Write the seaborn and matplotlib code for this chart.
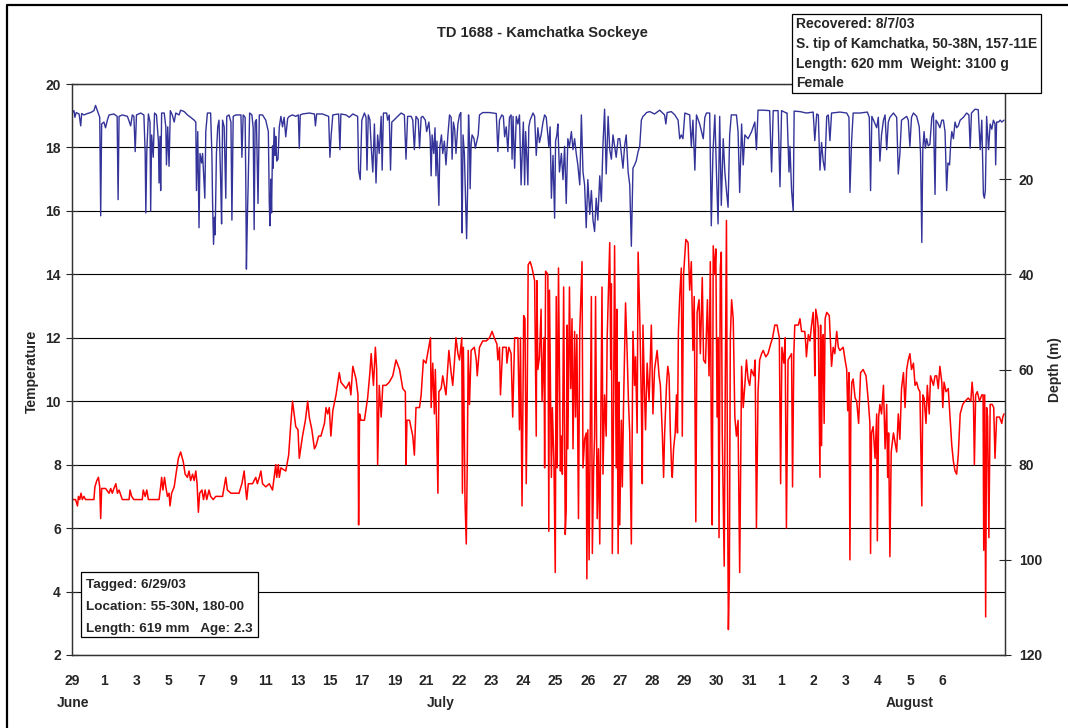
import numpy as np
import pandas as pd
import matplotlib.pyplot as plt
import seaborn as sns
from matplotlib.lines import Line2D
from matplotlib.patches import Rectangle

# Axis labels (the sheet spaces them evenly, one per category slot)
day_labels = ['29', '1', '3', '5', '7', '9', '11', '13', '15', '17', '19', '21', '22', '23',
              '24', '25', '26', '27', '28', '29', '30', '31', '1', '2', '3', '4', '5', '6']
month_labels = ['June', 'July', 'August']
depth_ticks = [20, 40, 60, 80, 100, 120]

# Temperature trace (slot position, deg C)
temp_points = [
    (0.01, 6.9), (0.11, 6.9), (0.17, 6.7), (0.20, 7.0), (0.24, 6.9), (0.28, 7.1), (0.32, 6.9),
    (0.37, 7.0), (0.42, 6.9), (0.68, 6.9), (0.71, 7.3), (0.77, 7.5), (0.82, 7.6), (0.86, 7.3),
    (0.89, 6.3), (0.92, 7.25), (1.04, 7.25), (1.15, 7.1), (1.20, 7.25), (1.25, 7.1), (1.30, 7.25),
    (1.36, 7.4), (1.41, 7.1), (1.46, 7.2), (1.56, 6.9), (1.77, 6.9), (1.80, 7.2), (1.85, 7.0),
    (1.92, 6.9), (2.18, 6.9), (2.21, 7.2), (2.27, 7.0), (2.32, 7.2), (2.37, 6.9), (2.70, 6.9),
    (2.75, 7.3), (2.78, 7.6), (2.82, 7.2), (2.87, 7.6), (2.91, 7.3), (2.96, 7.0), (3.01, 7.1),
    (3.04, 6.7), (3.09, 7.1), (3.17, 7.3), (3.24, 7.8), (3.30, 8.2), (3.37, 8.4), (3.45, 8.1),
    (3.51, 7.7), (3.58, 7.6), (3.63, 7.8), (3.68, 7.5), (3.74, 7.7), (3.79, 7.5), (3.84, 7.8),
    (3.88, 7.4), (3.92, 6.5), (3.96, 7.1), (4.03, 7.2), (4.08, 6.9), (4.13, 7.2), (4.18, 6.9),
    (4.25, 7.2), (4.30, 7.0), (4.38, 6.9), (4.46, 7.0), (4.67, 7.0), (4.72, 7.3), (4.77, 7.6),
    (4.82, 7.2), (4.93, 7.1), (5.18, 7.1), (5.27, 7.4), (5.34, 7.8), (5.39, 7.2), (5.42, 6.9),
    (5.47, 7.4), (5.60, 7.4), (5.70, 7.6), (5.75, 7.4), (5.81, 7.6), (5.86, 7.8), (5.91, 7.4),
    (6.01, 7.3), (6.12, 7.4), (6.22, 7.2), (6.27, 7.6), (6.32, 8.0), (6.35, 7.6), (6.40, 8.0),
    (6.43, 7.6), (6.48, 7.9), (6.63, 7.8), (6.72, 8.3), (6.78, 9.2), (6.84, 10.0), (6.89, 9.6),
    (6.94, 9.2), (7.01, 9.1), (7.05, 8.2),
    (7.15, 8.9), (7.24, 9.4), (7.31, 10.0), (7.36, 9.5), (7.44, 9.1), (7.52, 8.5), (7.57, 8.6),
    (7.65, 8.9), (7.72, 8.9), (7.83, 9.3), (7.88, 9.8), (7.93, 9.6), (7.98, 9.8), (8.03, 8.9),
    (8.09, 9.7), (8.19, 10.2), (8.29, 10.9), (8.34, 10.6), (8.50, 10.4), (8.60, 10.6), (8.65, 10.2),
    (8.71, 11.1), (8.81, 10.7), (8.87, 10.2), (8.89, 6.1), (8.92, 9.6), (8.96, 9.4), (9.07, 9.4),
    (9.17, 10.1), (9.24, 10.9), (9.28, 11.5), (9.35, 10.5), (9.41, 11.7), (9.45, 11.0), (9.48, 8.0),
    (9.53, 10.5), (9.59, 9.5), (9.64, 10.5), (9.74, 10.5), (9.84, 10.6), (9.95, 10.8), (10.05, 11.3),
    (10.16, 11.0), (10.26, 10.4), (10.34, 10.3), (10.36, 8.0), (10.39, 9.4), (10.47, 9.4),
    (10.57, 8.9), (10.62, 8.3), (10.67, 9.8), (10.78, 9.8), (10.83, 10.2), (10.90, 11.3),
    (10.98, 11.2), (11.03, 11.5), (11.12, 12.0), (11.14, 9.8), (11.19, 11.2), (11.24, 9.6),
    (11.27, 11.0), (11.31, 9.2), (11.35, 7.1), (11.38, 10.3), (11.45, 10.4), (11.50, 10.8),
    (11.60, 10.2), (11.69, 11.6), (11.76, 10.9), (11.81, 10.5), (11.86, 11.2), (11.91, 12.0),
    (11.97, 11.5), (12.02, 11.3), (12.09, 12.0), (12.11, 7.1), (12.14, 11.7), (12.19, 6.9),
    (12.23, 5.5), (12.26, 8.0), (12.29, 11.6), (12.33, 9.9), (12.38, 11.6), (12.48, 11.7),
    (12.54, 11.3), (12.57, 10.8), (12.64, 11.7), (12.74, 11.9), (12.85, 11.9), (12.95, 12.0),
    (13.03, 12.2), (13.10, 12.0), (13.18, 11.8), (13.21, 11.3), (13.26, 11.7), (13.29, 10.2),
    (13.36, 11.7), (13.47, 11.7), (13.49, 11.2), (13.55, 11.7), (13.62, 11.5), (13.67, 9.5),
    (13.73, 12.0), (13.83, 12.0), (13.88, 9.1), (13.91, 12.0), (13.96, 6.7), (14.01, 12.7),
    (14.05, 12.6), (14.09, 7.4), (14.12, 10.2), (14.15, 14.3), (14.21, 14.4), (14.27, 14.2),
    (14.35, 13.8), (14.40, 8.9), (14.42, 13.8), (14.45, 11.0), (14.50, 11.4), (14.55, 12.9),
    (14.58, 10.0), (14.64, 12.0), (14.66, 7.9), (14.69, 14.1), (14.76, 14.0), (14.79, 5.9),
    (14.81, 13.5), (14.87, 7.6), (14.90, 9.8), (14.95, 8.0), (14.99, 4.6), (15.02, 13.3),
    (15.05, 7.9), (15.09, 14.2), (15.15, 7.8), (15.18, 8.9), (15.21, 7.7), (15.25, 13.6),
    (15.30, 5.8), (15.33, 6.6), (15.36, 12.4), (15.38, 8.5), (15.43, 13.6), (15.47, 10.4),
    (15.51, 12.6), (15.54, 8.5), (15.59, 12.2), (15.62, 9.5), (15.66, 12.1), (15.71, 6.3),
    (15.75, 12.2), (15.82, 14.4), (15.85, 7.9), (15.90, 8.8), (15.95, 9.0), (15.97, 4.4),
    (16.00, 9.1), (16.04, 5.0), (16.11, 13.3), (16.14, 5.2), (16.18, 7.9), (16.21, 8.9),
    (16.24, 13.3), (16.29, 6.3), (16.33, 8.5), (16.37, 5.5), (16.44, 13.6), (16.47, 7.7),
    (16.52, 10.2), (16.57, 8.9), (16.60, 12.0), (16.68, 15.0), (16.71, 11.0), (16.73, 13.7),
    (16.76, 5.2), (16.80, 10.0), (16.83, 14.9), (16.88, 7.9), (16.90, 12.9), (16.94, 5.2),
    (16.97, 10.6), (16.99, 6.1), (17.04, 9.4), (17.07, 7.3), (17.11, 10.0), (17.17, 13.1),
    (17.22, 11.5), (17.26, 10.0), (17.30, 9.0), (17.35, 5.5), (17.40, 12.2), (17.45, 10.5),
    (17.48, 11.4), (17.53, 9.0), (17.56, 14.7), (17.61, 12.7), (17.66, 10.0), (17.69, 7.4),
    (17.71, 12.4), (17.76, 10.2), (17.79, 9.1), (17.84, 11.2), (17.90, 10.0), (17.97, 12.4),
    (18.02, 9.6), (18.07, 11.0), (18.15, 11.6), (18.21, 10.8), (18.25, 10.5), (18.31, 9.0),
    (18.35, 7.6), (18.38, 8.9), (18.44, 10.5), (18.48, 11.1), (18.52, 10.8), (18.56, 9.0),
    (18.60, 7.8), (18.62, 7.6), (18.66, 8.5), (18.71, 9.0), (18.75, 10.2), (18.78, 9.0),
    (18.81, 12.2), (18.85, 13.3), (18.90, 14.2), (18.93, 8.9), (18.97, 14.0), (19.04, 15.1),
    (19.11, 15.0), (19.16, 13.5), (19.21, 14.4), (19.26, 11.6), (19.30, 13.3), (19.35, 6.2),
    (19.39, 12.8), (19.45, 13.2), (19.49, 11.5), (19.55, 13.9), (19.59, 11.3), (19.65, 11.2),
    (19.71, 13.2), (19.76, 10.8), (19.80, 14.4), (19.83, 9.0), (19.86, 6.1), (19.89, 14.9),
    (19.94, 14.0), (19.97, 14.8), (20.01, 9.5), (20.04, 12.0), (20.07, 5.7), (20.11, 14.2),
    (20.14, 14.7), (20.17, 9.0), (20.23, 4.8), (20.26, 10.0), (20.30, 15.7), (20.33, 8.0),
    (20.36, 2.8), (20.39, 4.4), (20.42, 12.0), (20.46, 13.2), (20.51, 12.6), (20.56, 9.5),
    (20.61, 8.9), (20.66, 9.4), (20.71, 4.6), (20.77, 11.1), (20.82, 9.8), (20.87, 10.5),
    (20.92, 11.3), (20.97, 10.7), (21.02, 10.5), (21.07, 11.0), (21.15, 10.8), (21.19, 11.3),
    (21.23, 6.0), (21.28, 10.3), (21.33, 11.3), (21.39, 11.5), (21.44, 11.6), (21.52, 11.4),
    (21.59, 11.5), (21.67, 11.8), (21.73, 12.0), (21.80, 12.4), (21.87, 12.4), (21.94, 12.0),
    (21.98, 7.4), (22.02, 11.7), (22.08, 11.2), (22.12, 12.0), (22.16, 6.0), (22.21, 11.3),
    (22.32, 11.5), (22.35, 7.3), (22.39, 11.5), (22.42, 12.4), (22.53, 12.4), (22.58, 12.6),
    (22.63, 12.2), (22.73, 12.2), (22.76, 11.8), (22.78, 11.4), (22.84, 12.1), (22.89, 11.9),
    (22.94, 12.4), (22.99, 12.8), (23.02, 12.0), (23.04, 10.8), (23.07, 12.9), (23.12, 12.6),
    (23.15, 12.3), (23.20, 7.6), (23.22, 12.4), (23.25, 8.6), (23.28, 12.0), (23.30, 12.1),
    (23.33, 9.3), (23.36, 12.6), (23.41, 12.8), (23.49, 12.7), (23.53, 11.8), (23.56, 11.1),
    (23.61, 11.7), (23.66, 11.5), (23.72, 12.2), (23.77, 11.7), (23.82, 11.6), (23.92, 11.7),
    (23.98, 11.3), (24.03, 11.0), (24.06, 9.7), (24.10, 10.9), (24.13, 5.0), (24.16, 9.9),
    (24.19, 10.6), (24.23, 10.7), (24.29, 10.1), (24.34, 10.0), (24.40, 9.3), (24.46, 10.9),
    (24.54, 11.0), (24.63, 10.8), (24.70, 10.0), (24.75, 9.3), (24.77, 5.2), (24.80, 9.0),
    (24.85, 9.2), (24.91, 8.2), (24.96, 9.6), (24.98, 5.6), (25.02, 9.5), (25.06, 9.9),
    (25.11, 9.6), (25.17, 10.5), (25.22, 8.5), (25.27, 9.9), (25.30, 7.6), (25.33, 9.0),
    (25.37, 5.1), (25.41, 8.4), (25.48, 9.0), (25.53, 8.7), (25.58, 8.4), (25.63, 9.6),
    (25.68, 8.8), (25.73, 10.4), (25.79, 10.9), (25.84, 9.8), (25.89, 11.0), (25.94, 11.3),
    (25.99, 11.5), (26.04, 11.0), (26.10, 11.2), (26.15, 10.5), (26.20, 10.6), (26.25, 10.4),
    (26.30, 10.3), (26.36, 6.7), (26.39, 10.2), (26.43, 10.1), (26.49, 9.3), (26.53, 10.5),
    (26.59, 9.6), (26.63, 10.8), (26.72, 10.5), (26.77, 10.8), (26.82, 10.8), (26.87, 10.4),
    (26.92, 11.1), (26.98, 10.6), (27.01, 9.8), (27.05, 10.6), (27.11, 10.3), (27.18, 10.4),
    (27.24, 9.4), (27.29, 8.6), (27.34, 8.1), (27.39, 7.8), (27.44, 7.7), (27.49, 8.3),
    (27.55, 9.6), (27.63, 9.9), (27.70, 10.0), (27.80, 10.1), (27.88, 10.0), (27.92, 10.6),
    (27.96, 10.1), (27.99, 8.0), (28.03, 10.2), (28.08, 10.3), (28.15, 10.0), (28.22, 10.2),
    (28.26, 10.2), (28.28, 5.3), (28.31, 10.2), (28.34, 3.2), (28.37, 9.8), (28.40, 9.5),
    (28.44, 5.7), (28.48, 9.9), (28.54, 9.9), (28.59, 9.8), (28.63, 8.2), (28.68, 9.5),
    (28.77, 9.5), (28.84, 9.3), (28.87, 9.5), (28.91, 9.6),
]

# Depth trace (slot position, metres)
depth_points = [
    (0.01, 6.0), (0.06, 5.6), (0.09, 7.0), (0.13, 6.0), (0.22, 6.3), (0.27, 8.8), (0.30, 6.2),
    (0.37, 6.5), (0.48, 6.2), (0.58, 6.0), (0.68, 5.6), (0.73, 4.5), (0.82, 6.2), (0.86, 7.0),
    (0.89, 27.7), (0.92, 8.4), (0.99, 8.0), (1.04, 9.2), (1.10, 7.5), (1.15, 6.5), (1.30, 6.3),
    (1.40, 6.8), (1.43, 24.3), (1.46, 6.8), (1.56, 6.5), (1.72, 6.8), (1.82, 8.8), (1.87, 6.5),
    (1.92, 6.8), (1.96, 14.2), (2.00, 6.5), (2.13, 6.1), (2.23, 6.5), (2.27, 14.6), (2.29, 27.1),
    (2.32, 14.2), (2.37, 6.3), (2.42, 8.0), (2.44, 26.7), (2.47, 10.7), (2.52, 15.4), (2.56, 6.1),
    (2.62, 6.5), (2.68, 12.0), (2.70, 20.8), (2.73, 11.0), (2.75, 22.4), (2.78, 6.1), (2.86, 6.1),
    (2.91, 9.0), (2.93, 17.0), (2.97, 9.0), (3.01, 17.3), (3.05, 5.6), (3.11, 6.5), (3.17, 8.0),
    (3.22, 6.1), (3.32, 6.5), (3.37, 5.5), (3.48, 5.8), (3.58, 6.5), (3.68, 7.0), (3.79, 7.6),
    (3.84, 8.0), (3.86, 22.4), (3.90, 10.0), (3.94, 30.2), (3.97, 14.6), (4.02, 16.6), (4.05, 14.6),
    (4.09, 20.0), (4.12, 24.0), (4.15, 10.0), (4.20, 6.1), (4.30, 6.1), (4.34, 15.0), (4.36, 24.7),
    (4.39, 33.7), (4.42, 28.0), (4.44, 31.7), (4.48, 14.6), (4.52, 9.0), (4.56, 7.6), (4.61, 20.0),
    (4.64, 29.4), (4.67, 7.6), (4.72, 9.0), (4.77, 24.0), (4.80, 6.8), (4.87, 6.5), (4.93, 8.0),
    (4.96, 28.6), (5.00, 6.8), (5.08, 6.5), (5.24, 6.5), (5.27, 15.4), (5.31, 6.5), (5.37, 7.0),
    (5.39, 20.0), (5.41, 38.9), (5.44, 28.0), (5.46, 22.4), (5.51, 6.1), (5.58, 6.5), (5.62, 9.2),
    (5.65, 30.6), (5.68, 8.0), (5.72, 7.5), (5.77, 25.1), (5.81, 6.5), (5.91, 6.5), (6.01, 7.6),
    (6.09, 10.0), (6.12, 25.0), (6.14, 29.8), (6.17, 20.0), (6.19, 27.1), (6.22, 13.0), (6.24, 17.7),
    (6.27, 9.2), (6.30, 15.0), (6.32, 11.0), (6.35, 16.2), (6.39, 15.8), (6.43, 9.0), (6.48, 6.8),
    (6.53, 9.0), (6.58, 7.0), (6.63, 11.1), (6.69, 7.2), (6.74, 6.8), (6.84, 6.5), (6.94, 6.8),
    (7.02, 6.5), (7.05, 13.5), (7.08, 6.5),
    (7.15, 6.3), (7.36, 6.1), (7.52, 6.3), (7.55, 8.8), (7.59, 6.3), (7.77, 6.3), (7.96, 6.8),
    (8.00, 15.4), (8.04, 10.7), (8.09, 6.5), (8.27, 6.3), (8.31, 13.8), (8.34, 6.3), (8.50, 6.5),
    (8.60, 7.0), (8.71, 6.3), (8.86, 6.8), (8.89, 18.1), (8.94, 20.1), (8.99, 7.6), (9.07, 6.1),
    (9.12, 7.0), (9.15, 18.1), (9.19, 6.5), (9.24, 7.5), (9.28, 13.1), (9.33, 18.5), (9.38, 8.4),
    (9.43, 20.8), (9.48, 10.7), (9.53, 14.6), (9.59, 6.8), (9.62, 18.1), (9.66, 6.1), (9.76, 6.1),
    (9.79, 7.6), (9.84, 6.5), (9.88, 18.1), (9.92, 8.0), (10.00, 7.5), (10.10, 6.8), (10.21, 6.1),
    (10.31, 6.5), (10.36, 15.8), (10.41, 6.8), (10.52, 6.8), (10.57, 7.6), (10.62, 13.8),
    (10.67, 6.8), (10.74, 7.5), (10.78, 13.5), (10.83, 7.0), (10.88, 6.8), (10.96, 7.6),
    (11.00, 10.0), (11.07, 8.0), (11.11, 11.5), (11.14, 19.3), (11.17, 10.7), (11.22, 14.6),
    (11.26, 9.2), (11.29, 19.3), (11.32, 12.0), (11.38, 25.5), (11.41, 13.1), (11.46, 10.7),
    (11.50, 14.6), (11.55, 12.0), (11.60, 17.0), (11.66, 10.7), (11.71, 6.5), (11.76, 7.0),
    (11.79, 15.8), (11.83, 8.0), (11.87, 9.5), (11.91, 14.6), (11.97, 8.4), (12.02, 6.5),
    (12.06, 6.0), (12.08, 20.0), (12.10, 31.3), (12.13, 10.7), (12.17, 14.6), (12.20, 22.0),
    (12.24, 32.5), (12.27, 22.4), (12.30, 6.5), (12.33, 12.0), (12.35, 22.0), (12.38, 12.7),
    (12.41, 10.7), (12.47, 11.5), (12.51, 13.5), (12.56, 12.0), (12.60, 10.7), (12.64, 6.5),
    (12.74, 6.0), (12.95, 6.0), (13.16, 6.2), (13.21, 14.2), (13.26, 7.6), (13.33, 6.5),
    (13.38, 6.8), (13.42, 11.1), (13.47, 9.0), (13.52, 14.2), (13.57, 7.0), (13.62, 6.5),
    (13.65, 15.8), (13.68, 6.8), (13.73, 17.7), (13.78, 6.8), (13.83, 8.4), (13.88, 6.5),
    (13.93, 21.2), (13.96, 15.8), (14.00, 8.0), (14.04, 21.2), (14.07, 10.0), (14.11, 15.8),
    (14.14, 21.2), (14.17, 9.0), (14.21, 7.6), (14.30, 6.1), (14.35, 6.8), (14.40, 15.0),
    (14.45, 9.2), (14.50, 12.3), (14.55, 10.7), (14.61, 8.0), (14.66, 6.5), (14.71, 7.0),
    (14.79, 13.1), (14.83, 9.0), (14.87, 24.0), (14.92, 15.0), (14.97, 28.2), (15.00, 12.0),
    (15.04, 10.7), (15.07, 8.4), (15.12, 18.5), (15.18, 14.6), (15.23, 20.1), (15.28, 13.1),
    (15.33, 25.1), (15.38, 11.5), (15.43, 13.1), (15.49, 10.0), (15.54, 13.8), (15.59, 11.5),
    (15.64, 14.6), (15.69, 17.0), (15.75, 21.2), (15.80, 6.5), (15.85, 18.5), (15.90, 21.2),
    (15.95, 30.2), (16.00, 20.1), (16.06, 27.4), (16.11, 22.4), (16.16, 28.6), (16.21, 31.0),
    (16.26, 24.0), (16.31, 28.6), (16.37, 19.3), (16.42, 24.7), (16.47, 12.7), (16.52, 5.3),
    (16.57, 18.9), (16.63, 6.8), (16.68, 13.8), (16.73, 15.8), (16.78, 10.7), (16.83, 13.1),
    (16.88, 15.4), (16.94, 11.5), (16.99, 11.5), (17.04, 14.6), (17.09, 17.7), (17.14, 13.1),
    (17.19, 10.7), (17.25, 18.5), (17.30, 21.2), (17.35, 34.1), (17.40, 17.7), (17.45, 17.0),
    (17.50, 16.2), (17.56, 14.2), (17.61, 13.1), (17.66, 7.6), (17.71, 6.8), (17.76, 6.5),
    (17.82, 6.0), (17.92, 5.8), (18.07, 6.3), (18.23, 5.5), (18.38, 6.5), (18.42, 8.4),
    (18.46, 6.0), (18.59, 5.8), (18.70, 6.5), (18.80, 7.6), (18.85, 11.5), (18.90, 10.7),
    (18.95, 11.5), (19.01, 6.1), (19.16, 6.5), (19.21, 13.1), (19.26, 7.6), (19.32, 18.1),
    (19.37, 6.5), (19.47, 8.4), (19.58, 11.5), (19.63, 7.0), (19.68, 6.1), (19.78, 6.1),
    (19.83, 29.8), (19.88, 14.6), (19.94, 6.5), (19.99, 18.5), (20.04, 29.4), (20.09, 6.8),
    (20.14, 25.5), (20.20, 11.5), (20.25, 18.5), (20.30, 22.4), (20.35, 25.9), (20.40, 10.7),
    (20.45, 6.5), (20.61, 6.5), (20.66, 10.0), (20.71, 22.8), (20.77, 8.4), (20.82, 17.0),
    (20.87, 10.7), (20.97, 11.5), (21.08, 10.0), (21.18, 8.0), (21.23, 13.8), (21.28, 5.5),
    (21.44, 5.5), (21.64, 5.6), (21.70, 18.5), (21.75, 5.6), (21.90, 5.6), (21.96, 21.6),
    (22.01, 5.6), (22.16, 6.1), (22.18, 6.1), (22.24, 18.5), (22.27, 13.1), (22.32, 22.4),
    (22.37, 26.7), (22.40, 5.7), (22.58, 5.8), (22.78, 6.1), (22.99, 5.9), (23.04, 11.9),
    (23.10, 6.3), (23.15, 6.5), (23.20, 18.1), (23.25, 12.3), (23.30, 16.2), (23.35, 18.1),
    (23.41, 6.8), (23.46, 6.5), (23.51, 11.9), (23.56, 6.1), (23.82, 5.9), (24.03, 6.1),
    (24.10, 7.0), (24.13, 22.8), (24.18, 12.3), (24.23, 6.1), (24.44, 6.1), (24.67, 5.9),
    (24.73, 7.0), (24.77, 22.4), (24.81, 6.8), (24.91, 8.4), (24.96, 9.2), (25.01, 7.0),
    (25.06, 16.2), (25.11, 10.7), (25.17, 7.6), (25.22, 6.5), (25.27, 13.8), (25.32, 8.0),
    (25.37, 7.0), (25.48, 6.1), (25.58, 7.0), (25.63, 18.9), (25.68, 14.6), (25.73, 7.6),
    (25.89, 6.8), (25.94, 7.6), (25.99, 13.1), (26.04, 7.0), (26.10, 6.1), (26.20, 6.8),
    (26.28, 9.0), (26.32, 14.6), (26.36, 33.3), (26.39, 13.8), (26.43, 10.0), (26.47, 13.5),
    (26.51, 11.5), (26.56, 13.0), (26.61, 12.7), (26.67, 7.0), (26.72, 6.1), (26.77, 23.2),
    (26.80, 7.6), (26.87, 8.4), (26.92, 9.2), (26.98, 7.6), (27.03, 7.6), (27.08, 10.0),
    (27.13, 22.4), (27.17, 16.6), (27.22, 17.0), (27.26, 12.0), (27.29, 10.0), (27.34, 11.5),
    (27.39, 8.0), (27.44, 9.2), (27.49, 8.8), (27.55, 7.6), (27.65, 7.0), (27.75, 6.1),
    (27.82, 6.5), (27.86, 13.5), (27.90, 6.1), (28.01, 5.3), (28.11, 5.4), (28.17, 13.8),
    (28.22, 7.6), (28.27, 23.2), (28.30, 24.0), (28.33, 22.4), (28.37, 6.8), (28.43, 13.8),
    (28.48, 8.4), (28.53, 9.5), (28.58, 7.6), (28.63, 8.4), (28.65, 17.0), (28.68, 8.0),
    (28.74, 8.0), (28.79, 7.6), (28.84, 8.0), (28.91, 7.6),
]

temp_df = pd.DataFrame(temp_points, columns=['day', 'temp'])
depth_df = pd.DataFrame(depth_points, columns=['day', 'depth'])

sns.set_style('white')
plt.rcParams['font.family'] = ['Liberation Sans', 'DejaVu Sans']
plt.rcParams['font.weight'] = 'bold'

W, H = 1068, 728
fig = plt.figure(figsize=(W / 100, H / 100), dpi=100)
ax = fig.add_axes([72 / W, 73 / H, 933 / W, 571 / H])
ax2 = ax.twinx()

sns.lineplot(data=temp_df, x='day', y='temp', ax=ax, color='#FF0000', lw=1.1,
             estimator=None, sort=False)
sns.lineplot(data=depth_df, x='day', y='depth', ax=ax2, color='#333399', lw=1.0,
             estimator=None, sort=False)

ax.set_xlim(0, 28.94)
ax.set_ylim(2, 20)
ax2.set_ylim(120, 0)
ax.set_xlabel('')
ax.set_ylabel('')
ax2.set_ylabel('')

ax.set_yticks(range(2, 21, 2))
ax.grid(axis='y', color='black', lw=0.8)
ax.grid(axis='x', visible=False)
ax2.grid(False)
ax2.set_yticks(depth_ticks)

# one tick every half slot, a label on every whole slot
xt = np.arange(0, 28.6, 0.5)
ax.set_xticks(xt)
ax.set_xticklabels([day_labels[i // 2] if i % 2 == 0 and i // 2 < len(day_labels) else ''
                    for i in range(len(xt))])

ax.tick_params(axis='y', direction='inout', length=8, width=0.8, labelsize=10, pad=4)
ax.tick_params(axis='x', direction='inout', length=5, width=0.8, labelsize=10, pad=11)
ax2.tick_params(axis='y', direction='inout', length=8, width=0.8, labelsize=10, pad=6)
for a in (ax, ax2):
    for s in a.spines.values():
        s.set_color('#333333')
        s.set_linewidth(0.9)

fig.text(542 / W, 1 - 33 / H, 'TD 1688 - Kamchatka Sockeye', ha='center', va='center',
         fontsize=10.5, weight='bold')
fig.text(32 / W, 1 - 371 / H, 'Temperature', rotation=90, ha='center', va='center',
         fontsize=10, weight='bold')
fig.text(1055 / W, 1 - 370 / H, 'Depth (m)', rotation=90, ha='center', va='center',
         fontsize=10, weight='bold')
for lab, px in zip(month_labels, [73, 441, 910]):
    fig.text(px / W, 1 - 703 / H, lab, ha='center', va='center', fontsize=10, weight='bold')

# info boxes
fig.add_artist(Rectangle((792 / W, 1 - 93 / H), 249 / W, 79 / H, transform=fig.transFigure,
                         fc='white', ec='black', lw=0.9, zorder=10))
for txt, py in zip(['Recovered: 8/7/03', 'S. tip of Kamchatka, 50-38N, 157-11E',
                    'Length: 620 mm  Weight: 3100 g', 'Female'], [24, 44, 64, 83]):
    fig.text(796 / W, 1 - py / H, txt, ha='left', va='center', fontsize=10,
             weight='bold', zorder=11)

fig.add_artist(Rectangle((81 / W, 1 - 637 / H), 177 / W, 65 / H, transform=fig.transFigure,
                         fc='white', ec='black', lw=0.9, zorder=10))
for txt, py in zip(['Tagged: 6/29/03', 'Location: 55-30N, 180-00',
                    'Length: 619 mm   Age: 2.3'], [585, 607, 629]):
    fig.text(86 / W, 1 - py / H, txt, ha='left', va='center', fontsize=9.7,
             weight='bold', zorder=11)

# outer frame of the sheet
fig.add_artist(Line2D([7 / W, 7 / W, 1], [0, 1 - 5 / H, 1 - 5 / H], transform=fig.transFigure,
                      color='black', lw=1.6))

fig.savefig('out.png', dpi=100)
